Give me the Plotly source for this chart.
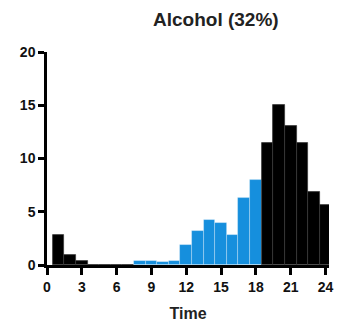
import plotly.graph_objects as go

hours = list(range(1, 25))
counts = [2.8, 0.9, 0.4, 0, 0, 0, 0, 0.35, 0.35, 0.25, 0.35, 1.9,
          3.15, 4.2, 3.9, 2.8, 6.25, 8.0, 11.5, 15.0, 13.05, 11.5, 6.85, 5.6]
is_blue = [h >= 8 and h <= 18 for h in hours]
BLUE = "#168fdd"
colors = [BLUE if b else "#000000" for b in is_blue]
line_colors = ["rgba(255,255,255,0.35)" if b else "#3a3a3a" for b in is_blue]

x_ticks = [0, 3, 6, 9, 12, 15, 18, 21, 24]
y_ticks = [0, 5, 10, 15, 20]

fig = go.Figure(go.Bar(
    x=hours, y=counts, width=1.0,
    marker=dict(color=colors, line=dict(color=line_colors, width=0.8)),
))

font = dict(family="Liberation Sans, Arial, sans-serif", color="#111", size=14, weight="bold")

fig.update_layout(
    width=345, height=330,
    margin=dict(l=47, r=16, t=52, b=65),
    plot_bgcolor="white", paper_bgcolor="white",
    showlegend=False, bargap=0,
    font=font,
    xaxis=dict(range=[0, 24.3], tickvals=x_ticks, ticks="outside", ticklen=7, tickwidth=2.5,
               tickcolor="black", showline=True, linecolor="black", linewidth=2.5,
               showgrid=False, zeroline=False, tickfont=font, automargin=False,
               title=dict(text="Time", font=dict(family="Liberation Sans, Arial", size=16, weight="bold", color="#222"), standoff=15)),
    yaxis=dict(range=[0, 20], tickvals=y_ticks, ticks="outside", ticklen=6, tickwidth=2.5,
               tickcolor="black", showline=True, linecolor="black", linewidth=2.5,
               showgrid=False, zeroline=False, tickfont=font, automargin=False),
    annotations=[dict(text="Alcohol (32%)", xref="paper", yref="paper", x=0.6, y=1.0,
                      yshift=33, showarrow=False, xanchor="center", yanchor="middle",
                      font=dict(family="Liberation Sans, Arial", size=19, weight="bold", color="#222"))],
)

fig.write_html("out.html")
